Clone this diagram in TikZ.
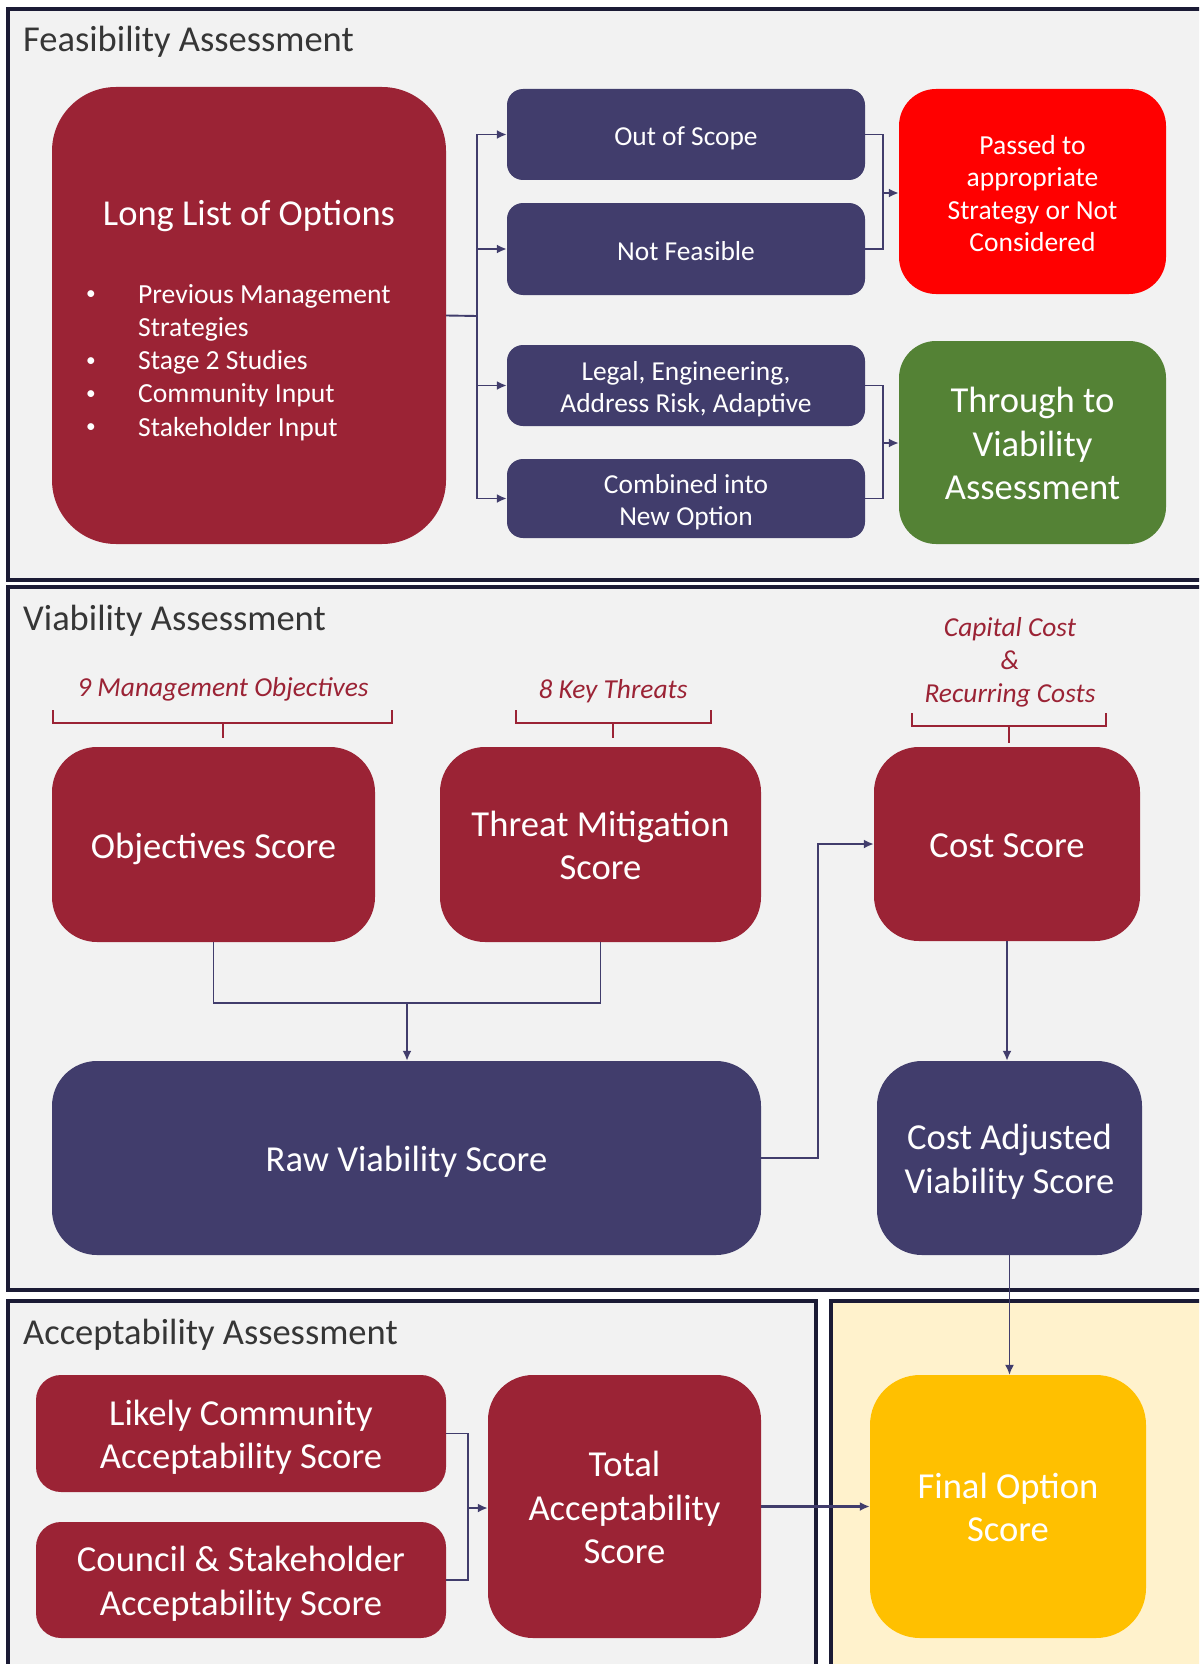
\documentclass[tikz,border=0pt]{standalone}
\usepackage{fontspec}
\setmainfont{Carlito}
\usetikzlibrary{arrows.meta,calc}
\definecolor{boxred}{HTML}{9B2335}
\definecolor{boxblue}{HTML}{413D6C}
\definecolor{passred}{HTML}{FF0000}
\definecolor{passgreen}{HTML}{548235}
\definecolor{finalgold}{HTML}{FFC000}
\definecolor{finalpanel}{HTML}{FFF2CC}
\definecolor{panelgray}{HTML}{F2F2F2}
\definecolor{panelline}{HTML}{1B1B35}
\definecolor{titlegray}{HTML}{363636}
\definecolor{connblue}{HTML}{413D6C}
\newcommand\setfs[2]{\fontsize{#1}{#2}\selectfont}
\newcommand\smallbullet{\raisebox{0.12em}{\scalebox{0.7}{\textbullet}}}
% centred card text, set a little below the optical middle of its box
\newcommand\cardtext[1]{\raisebox{-4.8pt}[\height][\depth]{\begin{tabular}{@{}c@{}}#1\end{tabular}}}
\begin{document}
\begin{tikzpicture}[x=1pt,y=-1pt,
  panel/.style={fill=panelgray, draw=panelline, line width=3.5pt},
  card/.style={rectangle, inner sep=0pt, text=white},
  redcard/.style={card, fill=boxred},
  bluecard/.style={card, fill=boxblue},
  smalltxt/.style={font=\setfs{27.4}{32}},
  bigtxt/.style={font=\setfs{36.6}{43.5}},
  conn/.style={draw=connblue, line width=1.9pt},
  arr/.style={conn, -{Latex[length=10pt,width=9pt]}},
  brace/.style={draw=boxred, line width=1.6pt},
  paneltitle/.style={anchor=west, inner sep=0pt, text=titlegray, font=\setfs{36.5}{42}},
  note/.style={text=boxred, align=center, inner sep=0pt, font=\itshape\setfs{27.4}{33}},
]
\path[use as bounding box, fill=white] (0,0) rectangle (1199,1664);

% ---- panels ----
\begin{scope}
  \clip (0,0) rectangle (1199,1664);
  \draw[panel] (8,9) rectangle (1230,580);
  \draw[panel] (8,587) rectangle (1230,1290);
  \draw[panel] (8,1301) rectangle (816,1690);
  \draw[panel, fill=finalpanel] (831,1301) rectangle (1230,1690);
\end{scope}

\node[paneltitle] (t1) at (23,42) {Feasibility Assessment};
\node[paneltitle] (t2) at (23,621) {Viability Assessment};
\node[paneltitle] (t3) at (23,1335) {Acceptability Assessment};

% ---- feasibility ----
\node[redcard, rounded corners=64pt, minimum width=394pt, minimum height=457pt] (longlist) at (249,315.5) {};
\node[inner sep=0pt, text=white, font=\setfs{36.5}{44}] (lltitle) at (249,216) {Long List of Options};
\node[inner sep=0pt, text=white, anchor=west, font=\setfs{27.6}{33.2}] (llitems) at (86,363)
  {\begin{tabular}{@{}p{52pt}@{}l@{}}
    \smallbullet & Previous Management\\
     & Strategies\\
    \smallbullet & Stage 2 Studies\\
    \smallbullet & Community Input\\
    \smallbullet & Stakeholder Input
  \end{tabular}};

\node[bluecard, smalltxt, rounded corners=16pt, minimum width=358pt, minimum height=91pt] (oos) at (686,134.5) {\cardtext{Out of Scope}};
\node[bluecard, smalltxt, rounded corners=16pt, minimum width=358pt, minimum height=92pt] (nf) at (686,249) {\cardtext{Not Feasible}};
\node[bluecard, smalltxt, rounded corners=16pt, minimum width=358pt, minimum height=81pt] (legal) at (686,385.5) {\cardtext{Legal, Engineering,\\Address Risk, Adaptive}};
\node[bluecard, smalltxt, rounded corners=16pt, minimum width=358pt, minimum height=79pt] (comb) at (686,498.5) {\cardtext{Combined into\\New Option}};

\node[card, fill=passred, font=\setfs{27.5}{32.5}, rounded corners=37pt, minimum width=267pt, minimum height=205pt] (passed) at (1032.5,191.5) {\cardtext{Passed to\\appropriate\\Strategy or Not\\Considered}};
\node[card, fill=passgreen, bigtxt, rounded corners=37pt, minimum width=267pt, minimum height=203pt] (through) at (1032.5,442.5) {\cardtext{Through to\\Viability\\Assessment}};

\coordinate (trunk) at (477,316);
\coordinate (jr) at (883,193);
\coordinate (jg) at (883,443);
\draw[conn] (longlist.east) -- (trunk);
\draw[arr] (trunk) |- (oos.west);
\draw[arr] (trunk) |- (nf.west);
\draw[arr] (trunk) |- (legal.west);
\draw[arr] (trunk) |- (comb.west);
\draw[conn] (oos.east) -| (jr) |- (nf.east);
\draw[arr] (jr) -- (jr -| passed.west);
\draw[conn] (legal.east) -| (jg) |- (comb.east);
\draw[arr] (jg) -- (jg -| through.west);

% ---- viability ----
\node[note] (nobj) at (223,689) {9 Management Objectives};
\node[note] (nthr) at (613,691) {8 Key Threats};
\node[note] (ncost) at (1010,662) {Capital Cost\\\&\\Recurring Costs};
\draw[brace] (53,710) -- (53,723) -- (392,723) -- (392,710) (223,723) -- (223,738);
\draw[brace] (516,710) -- (516,723) -- (711,723) -- (711,710) (613,723) -- (613,738);
\draw[brace] (912,713) -- (912,726) -- (1106,726) -- (1106,713) (1009,726) -- (1009,743);

\node[redcard, bigtxt, rounded corners=45pt, minimum width=323pt, minimum height=195pt] (obj) at (213.5,844.5) {\cardtext{Objectives Score}};
\node[redcard, bigtxt, rounded corners=45pt, minimum width=321pt, minimum height=195pt] (threat) at (600.5,844.5) {\cardtext{Threat Mitigation\\Score}};
\node[redcard, bigtxt, rounded corners=45pt, minimum width=266pt, minimum height=194pt] (cost) at (1007,844) {\cardtext{Cost Score}};
\node[bluecard, bigtxt, rounded corners=45pt, minimum width=709pt, minimum height=194pt] (raw) at (406.5,1158) {\cardtext{Raw Viability Score}};
\node[bluecard, bigtxt, rounded corners=45pt, minimum width=265pt, minimum height=194pt] (costadj) at (1009.5,1158) {\cardtext{Cost Adjusted\\Viability Score}};

\coordinate (jv) at (407,1003);
\coordinate (jc) at (818,1158);
\draw[conn] (obj.south) |- (jv) -| (threat.south);
\draw[arr] (jv) -- (jv |- raw.north);
\draw[arr] (raw.east) -- (jc) |- (cost.west);
\draw[arr] (cost.south) -- (cost.south |- costadj.north);

% ---- acceptability and final score ----
\node[redcard, bigtxt, rounded corners=25pt, minimum width=410pt, minimum height=117pt] (likely) at (241,1433.5) {\cardtext{Likely Community\\Acceptability Score}};
\node[redcard, bigtxt, rounded corners=25pt, minimum width=410pt, minimum height=116pt] (council) at (241,1580) {\cardtext{Council \& Stakeholder\\Acceptability Score}};
\node[redcard, bigtxt, rounded corners=45pt, minimum width=273pt, minimum height=263pt] (total) at (624.5,1506.5) {\cardtext{Total\\Acceptability\\Score}};
\node[card, fill=finalgold, bigtxt, rounded corners=50pt, minimum width=276pt, minimum height=263pt] (final) at (1008,1506.5) {\cardtext{Final Option\\Score}};

\coordinate (ja) at (468,1508);
\draw[conn] (likely.east) -| (ja) |- (council.east);
\draw[arr] (ja) -- (ja -| total.west);
\draw[arr, line width=2.6pt] (total.east) -- (total.east -| final.west);
\draw[arr, line width=1.6pt] (costadj.south) -- (costadj.south |- final.north);
\end{tikzpicture}
\end{document}
